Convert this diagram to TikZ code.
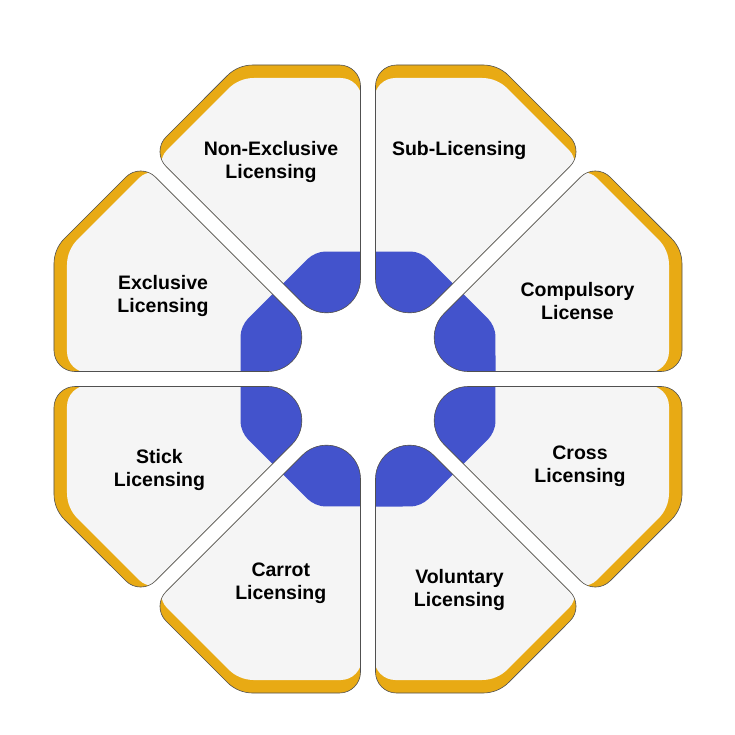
\documentclass[tikz,border=0pt]{standalone}
\usepackage{fontspec}
\setmainfont{Liberation Sans}
\begin{document}
\begin{tikzpicture}[x=1pt,y=1pt]
\definecolor{borange}{HTML}{E8AA14}
\definecolor{bblue}{HTML}{4353CC}
\definecolor{pfill}{HTML}{F5F5F5}
\definecolor{pline}{HTML}{505050}
\tikzset{
  lbl/.style={font=\bfseries\fontsize{19.5}{23}\selectfont, align=center, text=black},
  ppath/.style={insert path={(76.15,65.54) arc[start angle=135,end angle=270,radius=34] -- (293,7.5) arc[start angle=-90,end angle=0,radius=21] -- (314,115.17) arc[start angle=0,end angle=45,radius=36] -- (242.18,201.88) arc[start angle=45,end angle=135,radius=21] -- cycle}},
  opath/.style={insert path={(0:127.5) -- (22.5:138) -- (67.5:138) -- (112.5:138) -- (157.5:138) -- (202.5:138) -- (247.5:138) -- (292.5:138) -- (337.5:138) -- cycle}}
}
\useasboundingbox (-368,-355) rectangle (367,379);
\foreach \ang/\sx/\sy in {0/-13/-1.14, 45/-10/-8.38, 90/-13/-1.14, 135/-10/-8.38, 180/-13/-1.14, 225/-10/-8.38, 270/-13/-1.14, 315/-10/-8.38}{
  \begin{scope}[rotate=\ang]
    \fill[borange, ppath];
    \begin{scope}
      \clip[ppath];
      \begin{scope}[shift={(\sx,\sy)}]
        \fill[pfill, ppath];
      \end{scope}
      \fill[bblue, rounded corners=10, opath];
    \end{scope}
    \draw[pline, line width=0.6, ppath];
  \end{scope}
}
\node[lbl] (nonex) at (-97,217) {Non-Exclusive\\Licensing};
\node[lbl] (sub) at (91.2,228.1) {Sub-Licensing};
\node[lbl] (excl) at (-205,82.6) {Exclusive\\Licensing};
\node[lbl] (comp) at (209.5,77.6) {Compulsory\\License};
\node[lbl] (stick) at (-208.5,-91.4) {Stick\\Licensing};
\node[lbl] (cross) at (212,-87.4) {Cross\\Licensing};
\node[lbl] (carrot) at (-87.2,-204.7) {Carrot\\Licensing};
\node[lbl] (vol) at (91.5,-210.7) {Voluntary\\Licensing};
\end{tikzpicture}
\end{document}
